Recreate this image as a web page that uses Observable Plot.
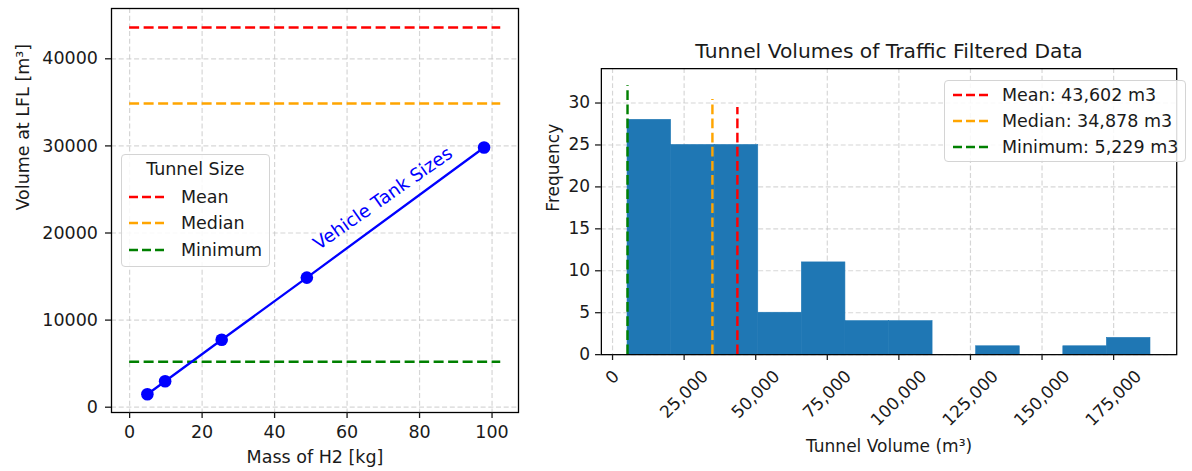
<!DOCTYPE html>
<html>
<head>
<meta charset="utf-8">
<script src="https://cdn.jsdelivr.net/npm/d3@7"></script>
<script src="https://cdn.jsdelivr.net/npm/@observablehq/plot@0.6"></script>
<style>
  html, body { margin: 0; padding: 0; background: #fff; }
  body {
    width: 1192px; height: 471px; overflow: hidden; position: relative;
    font-family: "DejaVu Sans", sans-serif; color: #1a1a1a;
  }
  #left  { position: absolute; left: 0; top: 0; width: 530px; height: 471px; }
  #right { position: absolute; left: 530px; top: 0; width: 662px; height: 471px; overflow: hidden; }
  .legend {
    position: absolute; box-sizing: border-box;
    border: 1px solid #d4d4d4; border-radius: 4px;
    background: rgba(255, 255, 255, 0.85);
    font-size: 17.5px;
  }
  .legend .lt, .legend .title { position: absolute; height: 22px; line-height: 22px; white-space: nowrap; }
  .legend svg { position: absolute; overflow: visible; }
</style>
</head>
<body>
<div id="left"></div>
<div id="right"></div>
<script>
// ---- Left panel: LFL volume against hydrogen mass ----
const massKg      = [4.9, 9.8, 25.4, 48.9, 97.8];
const volumeAtLFL = [1490, 2980, 7740, 14880, 29820];
const massTicks   = [0, 20, 40, 60, 80, 100];
const volumeTicks = [0, 10000, 20000, 30000, 40000];
const refLineSpan = [0, 102.4];   // x extent of the tunnel-size reference lines

// ---- Tunnel statistics shared by both panels ----
const statNames  = ["Mean", "Median", "Minimum"];
const statValues = [43602, 34878, 5229];
const statColors = ["#ff0000", "#ffa500", "#008000"];
const statTops   = [29.46, 30.42, 32.05];   // heights of the vertical markers

// ---- Right panel: histogram of tunnel volumes ----
const binEdges  = [5229, 20449, 35669, 50889, 66109, 81329, 96549, 111769, 126989, 142209, 157429, 172649, 187869];
const binCounts = [28, 25, 25, 5, 11, 4, 4, 0, 1, 0, 1, 2];
const tunnelTicks = [0, 25000, 50000, 75000, 100000, 125000, 150000, 175000];
const freqTicks   = [0, 5, 10, 15, 20, 25, 30];

const FS = 17.5;
const INK = "#1a1a1a";
const gridStyle = { stroke: "#c8c8c8", strokeOpacity: 0.75, strokeWidth: 1.2, strokeDasharray: "5,2.7" };
const dash = "10,4.5";
const tickStyle = { tickSize: 6, strokeWidth: 1.3, tickFormat: () => "", label: null };

const points = massKg.map((m, i) => ({ mass: m, volume: volumeAtLFL[i] }));
const stats = statNames.map((n, i) => ({ name: n, value: statValues[i], color: statColors[i], top: statTops[i] }));
const bins = binCounts.map((c, i) => ({ x1: binEdges[i], x2: binEdges[i + 1], count: c }));
const tankLabel = [{
  mass: d3.mean(massKg.slice(3)),
  volume: d3.mean(volumeAtLFL.slice(3)),
  text: "Vehicle Tank Sizes"
}];

const left = Plot.plot({
  width: 530, height: 471,
  marginLeft: 111, marginRight: 12, marginTop: 8, marginBottom: 59,
  x: { domain: [-5, 107.3] },
  y: { domain: [-608, 45775] },
  style: { fontFamily: "DejaVu Sans", fontSize: FS + "px", color: INK, background: "transparent", overflow: "visible" },
  marks: [
    Plot.gridX(massTicks, gridStyle),
    Plot.gridY(volumeTicks, gridStyle),
    Plot.ruleY(stats, { y: "value", x1: refLineSpan[0], x2: refLineSpan[1], stroke: "color", strokeWidth: 2.5, strokeDasharray: dash }),
    Plot.line(points, { x: "mass", y: "volume", stroke: "#0000ff", strokeWidth: 2.3 }),
    Plot.dot(points, { x: "mass", y: "volume", r: 6.3, fill: "#0000ff", stroke: "none" }),
    Plot.text(tankLabel, { x: "mass", y: "volume", text: "text", rotate: -35, dx: -12.5, dy: -14,
      fill: "#0000ff", fontSize: 18.2, textAnchor: "middle", lineAnchor: "middle" }),
    Plot.frame({ stroke: "#000", strokeWidth: 1.3 }),
    Plot.axisX({ ticks: massTicks, ...tickStyle }),
    Plot.axisY({ ticks: volumeTicks, ...tickStyle }),
    Plot.text(massTicks, { x: d => d, text: d => String(d), frameAnchor: "bottom", dy: 13, lineAnchor: "top", fontSize: FS, fill: INK }),
    Plot.text(volumeTicks, { y: d => d, text: d => String(d), frameAnchor: "left", dx: -13.5, textAnchor: "end", lineAnchor: "middle", fontSize: FS, fill: INK }),
    Plot.text(["Mass of H2 [kg]"], { frameAnchor: "bottom", dy: 45, fontSize: FS, lineAnchor: "middle", fill: INK }),
    Plot.text(["Volume at LFL [m³]"], { frameAnchor: "left", dx: -88, rotate: -90, fontSize: FS, lineAnchor: "middle", fill: INK })
  ]
});
document.getElementById("left").appendChild(left);

// rotated tick labels whose bounding boxes are centred under each tick
const fmt = d3.format(",");
const labelLen = s => [...s].reduce((a, c) => a + (c === "," ? 0.318 : 0.636), 0) * FS;
const tunnelLabels = tunnelTicks.map(t => Plot.text([t], {
  x: d => d, text: d => fmt(d), frameAnchor: "bottom",
  dy: 12 + (labelLen(fmt(t)) + 1.17 * FS) * 0.3536,
  rotate: -45, textAnchor: "middle", lineAnchor: "middle", fontSize: FS, fill: INK
}));

const right = Plot.plot({
  width: 680, height: 471,
  marginLeft: 72.8, marginRight: 16.2, marginTop: 70, marginBottom: 107.2,
  x: { domain: [-3905, 197034] },
  y: { domain: [0, 34.1] },
  style: { fontFamily: "DejaVu Sans", fontSize: FS + "px", color: INK, background: "transparent", overflow: "visible" },
  marks: [
    Plot.gridX(tunnelTicks, gridStyle),
    Plot.gridY(freqTicks, gridStyle),
    Plot.rectY(bins, { x1: "x1", x2: "x2", y: "count", fill: "#1f77b4", stroke: "#1f77b4", strokeWidth: 0.6 }),
    Plot.ruleX(stats, { x: "value", y1: 0, y2: "top", stroke: "color", strokeWidth: 2.5, strokeDasharray: dash }),
    Plot.frame({ stroke: "#000", strokeWidth: 1.3 }),
    Plot.axisX({ ticks: tunnelTicks, ...tickStyle }),
    Plot.axisY({ ticks: freqTicks, ...tickStyle }),
    ...tunnelLabels,
    Plot.text(freqTicks, { y: d => d, text: d => String(d), frameAnchor: "left", dx: -11.5, textAnchor: "end", lineAnchor: "middle", fontSize: FS, fill: INK }),
    Plot.text(["Tunnel Volume (m³)"], { frameAnchor: "bottom", dy: 94.2, fontSize: FS, lineAnchor: "middle", fill: INK }),
    Plot.text(["Frequency"], { frameAnchor: "left", dx: -49.1, rotate: -90, fontSize: FS, lineAnchor: "middle", fill: INK }),
    Plot.text(["Tunnel Volumes of Traffic Filtered Data"], { frameAnchor: "top", dy: -18, fontSize: 20.8, lineAnchor: "middle", fill: INK })
  ]
});
document.getElementById("right").appendChild(right);

// ---- legends ----
function legend(box, title, labels) {
  const div = document.createElement("div");
  div.className = "legend";
  Object.assign(div.style, { left: box.left + "px", top: box.top + "px", width: box.width + "px", height: box.height + "px" });
  if (title) {
    const t = document.createElement("div");
    t.className = "title";
    t.textContent = title;
    Object.assign(t.style, { left: "0px", width: "100%", textAlign: "center", top: (box.titleY - 11) + "px" });
    div.appendChild(t);
  }
  labels.forEach((lab, i) => {
    const y = box.rows[i];
    const svg = d3.create("svg").attr("width", box.lineEnd - box.lineStart).attr("height", 6)
      .style("left", box.lineStart + "px").style("top", (y - 3) + "px");
    svg.append("line").attr("x1", 0).attr("x2", box.lineEnd - box.lineStart).attr("y1", 3).attr("y2", 3)
      .attr("stroke", statColors[i]).attr("stroke-width", 2.5).attr("stroke-dasharray", "9,4");
    div.appendChild(svg.node());
    const s = document.createElement("div");
    s.className = "lt";
    s.textContent = lab;
    Object.assign(s.style, { left: box.textX + "px", top: (y - 11) + "px" });
    div.appendChild(s);
  });
  document.body.appendChild(div);
}

legend({ left: 120.7, top: 154, width: 149.3, height: 112.7, titleY: 14.3,
         rows: [41.7, 68.3, 95.3], lineStart: 7, lineEnd: 44.3, textX: 59.3 },
       "Tunnel Size", statNames);

legend({ left: 944.3, top: 80, width: 241.7, height: 81.7,
         rows: [14, 40, 66], lineStart: 7.4, lineEnd: 42.4, textX: 56.7 },
       null, statNames.map((n, i) => `${n}: ${fmt(statValues[i])} m3`));
</script>
</body>
</html>
